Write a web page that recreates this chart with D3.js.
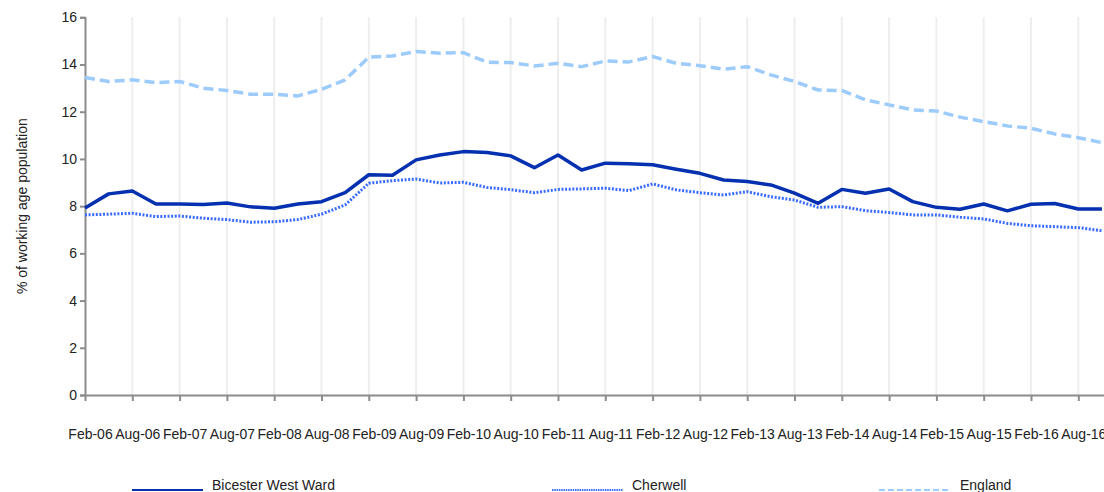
<!DOCTYPE html>
<html>
<head>
<meta charset="utf-8">
<script src="https://cdn.jsdelivr.net/npm/d3@7"></script>
<style>
  html, body { margin: 0; padding: 0; background: #fff; overflow: hidden; }
  svg { display: block; font-family: "Liberation Sans", Arial, sans-serif; }
</style>
</head>
<body>
<svg id="chart" width="1104" height="492"></svg>
<script>
// Quarterly periods, Feb-06 .. Nov-16
const periods = ["Feb-06","May-06","Aug-06","Nov-06","Feb-07","May-07","Aug-07","Nov-07",
  "Feb-08","May-08","Aug-08","Nov-08","Feb-09","May-09","Aug-09","Nov-09",
  "Feb-10","May-10","Aug-10","Nov-10","Feb-11","May-11","Aug-11","Nov-11",
  "Feb-12","May-12","Aug-12","Nov-12","Feb-13","May-13","Aug-13","Nov-13",
  "Feb-14","May-14","Aug-14","Nov-14","Feb-15","May-15","Aug-15","Nov-15",
  "Feb-16","May-16","Aug-16","Nov-16"];

const tickLabels = ["Feb-06","Aug-06","Feb-07","Aug-07","Feb-08","Aug-08","Feb-09","Aug-09",
  "Feb-10","Aug-10","Feb-11","Aug-11","Feb-12","Aug-12","Feb-13","Aug-13",
  "Feb-14","Aug-14","Feb-15","Aug-15","Feb-16","Aug-16"];

const bicesterWest = [7.92,8.52,8.64,8.09,8.09,8.07,8.13,7.97,7.91,8.09,8.19,8.57,
  9.33,9.31,9.96,10.17,10.31,10.27,10.13,9.63,10.17,9.53,9.82,9.80,
  9.75,9.56,9.39,9.11,9.04,8.90,8.55,8.12,8.71,8.55,8.73,8.19,
  7.95,7.87,8.09,7.80,8.08,8.11,7.88,7.88];

const cherwell = [7.63,7.66,7.70,7.56,7.58,7.49,7.43,7.32,7.34,7.43,7.66,8.05,
  8.97,9.08,9.15,8.98,9.01,8.79,8.70,8.57,8.71,8.73,8.76,8.66,
  8.94,8.69,8.57,8.47,8.61,8.40,8.26,7.95,7.98,7.81,7.73,7.63,
  7.63,7.53,7.46,7.27,7.17,7.13,7.09,6.96];

const england = [13.45,13.28,13.35,13.23,13.28,13.00,12.90,12.74,12.74,12.67,12.95,13.35,
  14.31,14.36,14.55,14.48,14.50,14.10,14.08,13.94,14.05,13.91,14.15,14.11,
  14.34,14.05,13.95,13.80,13.91,13.56,13.28,12.92,12.90,12.50,12.29,12.08,
  12.03,11.77,11.58,11.40,11.30,11.06,10.90,10.69];

const seriesNames = ["Bicester West Ward","Cherwell","England"];
const yTicks = [0,2,4,6,8,10,12,14,16];

const svg = d3.select("#chart");
const mLeft = 85, mTop = 17.3, mBottom = 395;
const step = 23.65;
const x = d3.scaleLinear().domain([0, 44]).range([mLeft, mLeft + 44 * step]);
const y = d3.scaleLinear().domain([0, 16]).range([mBottom, mTop]);

// vertical gridlines
const tickIdx = tickLabels.map((d, i) => i * 2);
svg.append("g").selectAll("line").data(tickIdx.slice(1)).join("line")
  .attr("x1", d => x(d)).attr("x2", d => x(d))
  .attr("y1", y(16)).attr("y2", y(0))
  .attr("stroke", "#eeeeee").attr("stroke-width", 2);

// y axis
const yAxis = svg.append("g").attr("transform", `translate(${mLeft},0)`)
  .call(d3.axisLeft(y).tickValues(yTicks).tickSize(5).tickPadding(3).tickFormat(d3.format("d")));
yAxis.select(".domain").attr("stroke", "#8c8c8c").attr("stroke-width", 2);
yAxis.selectAll(".tick line").attr("stroke", "#8c8c8c").attr("stroke-width", 2);
yAxis.selectAll("text").attr("font-size", 14).attr("fill", "#222")
  .attr("font-family", "Liberation Sans, Arial, sans-serif");

// x axis
const xAxis = svg.append("g").attr("transform", `translate(0,${mBottom})`)
  .call(d3.axisBottom(x).tickValues(tickIdx).tickSize(6).tickSizeOuter(0)
    .tickFormat((d, i) => tickLabels[i]));
xAxis.select(".domain").attr("stroke", "#8c8c8c").attr("stroke-width", 2);
xAxis.selectAll(".tick line").attr("stroke", "#8c8c8c").attr("stroke-width", 2);
xAxis.selectAll("text").attr("font-size", 14).attr("fill", "#222")
  .attr("font-family", "Liberation Sans, Arial, sans-serif")
  .attr("dx", 5).attr("dy", 0).attr("y", 44);

// y title
svg.append("text")
  .attr("transform", `translate(27,${(mTop + mBottom) / 2}) rotate(-90)`)
  .attr("text-anchor", "middle").attr("font-size", 14).attr("fill", "#222")
  .text("% of working age population");

const line = d3.line().x((d, i) => x(i)).y(d => y(d));

const styles = [
  { data: bicesterWest, color: "#0530b0", width: 3.5, dash: null, cap: "butt" },
  { data: cherwell, color: "#3a6bff", width: 3, dash: "2,1.6", cap: "butt" },
  { data: england, color: "#9ccbfc", width: 3.5, dash: "10,5", cap: "butt" }
];

// draw England first so others overlay
[2, 1, 0].forEach(k => {
  const s = styles[k];
  svg.append("path").datum(s.data)
    .attr("fill", "none").attr("stroke", s.color).attr("stroke-width", s.width)
    .attr("stroke-linejoin", "round").attr("stroke-linecap", s.cap)
    .attr("stroke-dasharray", s.dash)
    .attr("d", line);
});

// legend
const legendPos = [
  { x1: 132, x2: 203, tx: 212 },
  { x1: 552, x2: 623, tx: 632 },
  { x1: 879, x2: 949, tx: 960 }
];
const legendDash = [null, "1.5,0.8", "6,3"];
const lg = svg.append("g");
seriesNames.forEach((name, k) => {
  const p = legendPos[k];
  lg.append("line").attr("x1", p.x1).attr("x2", p.x2).attr("y1", 490).attr("y2", 490)
    .attr("stroke", styles[k].color).attr("stroke-width", 2)
    .attr("stroke-dasharray", legendDash[k]);
  lg.append("text").attr("x", p.tx).attr("y", 490).attr("font-size", 14).attr("fill", "#222")
    .text(name);
});
</script>
</body>
</html>
